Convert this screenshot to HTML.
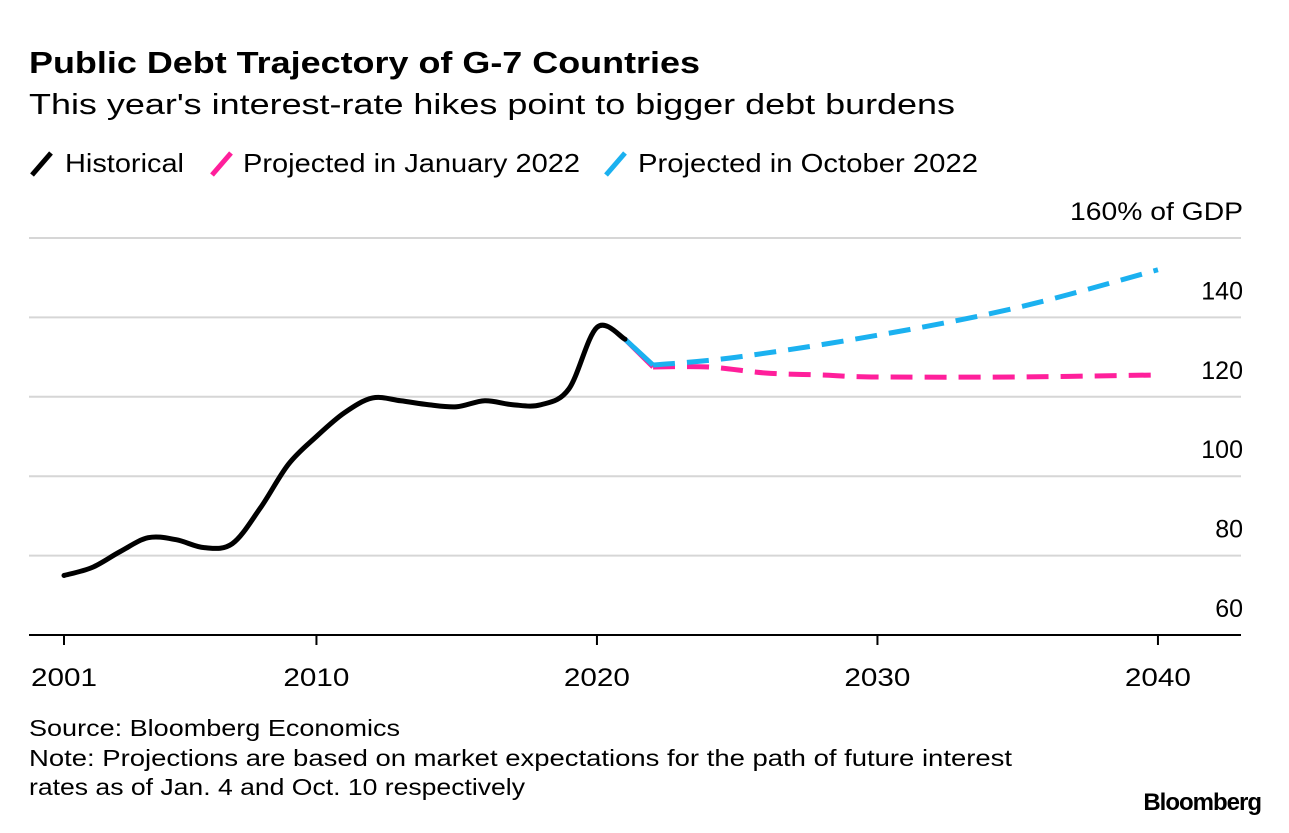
<!DOCTYPE html>
<html><head><meta charset="utf-8"><style>
body{margin:0;background:#fff;font-family:"Liberation Sans",sans-serif;}
svg text{font-family:"Liberation Sans",sans-serif;}
</style></head><body>
<svg width="1289" height="828">
<text x="29" y="73" font-size="31" font-weight="bold" fill="#000" textLength="671" lengthAdjust="spacingAndGlyphs">Public Debt Trajectory of G-7 Countries</text>
<text x="29" y="114" font-size="29" fill="#000" textLength="926" lengthAdjust="spacingAndGlyphs">This year's interest-rate hikes point to bigger debt burdens</text>
<g font-size="26">
<line x1="32" y1="175" x2="51" y2="153" stroke="#000" stroke-width="5"/>
<text x="65" y="172" textLength="119" lengthAdjust="spacingAndGlyphs">Historical</text>
<line x1="212" y1="175" x2="231" y2="153" stroke="#ff1f9b" stroke-width="5"/>
<text x="243" y="172" textLength="337" lengthAdjust="spacingAndGlyphs">Projected in January 2022</text>
<line x1="606" y1="175" x2="625" y2="153" stroke="#1bb1f0" stroke-width="5"/>
<text x="638" y="172" textLength="340" lengthAdjust="spacingAndGlyphs">Projected in October 2022</text>
</g>
<g id="grid"></g><g id="lines"></g>
<text x="29" y="736" font-size="23" textLength="371" lengthAdjust="spacingAndGlyphs">Source: Bloomberg Economics</text>
<text x="29" y="766" font-size="23" textLength="983" lengthAdjust="spacingAndGlyphs">Note: Projections are based on market expectations for the path of future interest</text>
<text x="29" y="795" font-size="23" textLength="496" lengthAdjust="spacingAndGlyphs">rates as of Jan. 4 and Oct. 10 respectively</text>
<text x="1261" y="810" font-size="24" font-weight="bold" text-anchor="end" letter-spacing="-1">Bloomberg</text>
</svg>
<script>
const yTicks=[160,140,120,100,80,60];
const xTicks=[2001,2010,2020,2030,2040];
const histYears=[2001,2002,2003,2004,2005,2006,2007,2008,2009,2010,2011,2012,2013,2014,2015,2016,2017,2018,2019,2020,2021];
const histVals=[75,77,81,84.5,84,82,83,92,103,110,116,119.7,119,118,117.5,119,118,118,122,137.5,134.5];
const janYears=[2021,2022,2024,2026,2028,2030,2035,2040];
const janVals=[134.5,127.5,127.5,126,125.5,125,125,125.5];
const octYears=[2021,2022,2025,2030,2035,2040];
const octVals=[134.5,128,130,135.5,142.5,152];
const NS="http://www.w3.org/2000/svg";
const X=y=>64+(y-2001)*28.05;
const Y=v=>635-(v-60)*3.97;
function mk(t,a,p){const e=document.createElementNS(NS,t);for(const k in a)e.setAttribute(k,a[k]);p.appendChild(e);return e;}
const g=document.getElementById('grid'),L=document.getElementById('lines');
yTicks.forEach(v=>{
 if(v>60){const l=mk('line',{x1:29,x2:1241,y1:Y(v),y2:Y(v),stroke:'#d6d6d6','stroke-width':2},g);
 
 }
 const t=mk('text',{x:1243,y:Y(v)-18,'font-size':25,'text-anchor':'end'},g);
 t.textContent=v===160?'160% of GDP':String(v);
 if(v===160){t.setAttribute('textLength','173');t.setAttribute('lengthAdjust','spacingAndGlyphs');}
 
 
});
const ax=mk('line',{x1:29,x2:1241,y1:635,y2:635,stroke:'#000','stroke-width':2},g);


xTicks.forEach(y=>{
 const tk=mk('line',{x1:X(y),x2:X(y),y1:635,y2:645,stroke:'#000','stroke-width':2},g);
 
 
 const t=mk('text',{x:X(y),y:686,'font-size':25,'text-anchor':'middle',textLength:66,lengthAdjust:'spacingAndGlyphs'},g);
 t.textContent=y;
 
 
});
function curve(xs,vs){const p=xs.map((x,i)=>[X(x),Y(vs[i])]);let d='M'+p[0];
 for(let i=0;i<p.length-1;i++){const p0=p[i-1]||p[i],p1=p[i],p2=p[i+1],p3=p[i+2]||p2;
 const c1=[p1[0]+(p2[0]-p0[0])/6,p1[1]+(p2[1]-p0[1])/6],c2=[p2[0]-(p3[0]-p1[0])/6,p2[1]-(p3[1]-p1[1])/6];
 d+='C'+c1+' '+c2+' '+p2;}return d;}
function proj(xs,vs,col,name){
 const s=mk('line',{x1:X(xs[0]),y1:Y(vs[0]),x2:X(xs[1]),y2:Y(vs[1]),stroke:col,'stroke-width':5},L);
 
 
 const p=mk('path',{d:curve(xs.slice(1),vs.slice(1)),fill:'none',stroke:col,'stroke-width':5,'stroke-dasharray':'22 12'},L);
 
 
}
proj(janYears,janVals,'#ff1f9b','january-projection-line');
proj(octYears,octVals,'#1bb1f0','october-projection-line');
const h=mk('path',{d:curve(histYears,histVals),fill:'none',stroke:'#000','stroke-width':5,'stroke-linecap':'round'},L);


</script>
</body></html>
